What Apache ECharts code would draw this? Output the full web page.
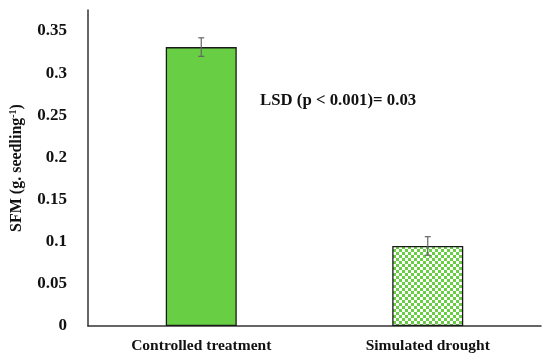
<!DOCTYPE html>
<html><head><meta charset="utf-8">
<script src="https://cdn.jsdelivr.net/npm/echarts@6/dist/echarts.min.js"></script>
<style>html,body{margin:0;padding:0;background:#fff}#c{width:550px;height:363px}</style>
</head><body><div id="c"></div>
<script>
var categories = ['Controlled treatment', 'Simulated drought'];
var values = [0.331, 0.095];
var errors = [0.011, 0.011];
var yTicks = [0, 0.05, 0.1, 0.15, 0.2, 0.25, 0.3, 0.35];
var annotation = 'LSD (p < 0.001)= 0.03';

var green = '#68cf45';
var pc = document.createElement('canvas');
pc.width = 6; pc.height = 6;
var g = pc.getContext('2d');
g.fillStyle = '#ffffff'; g.fillRect(0,0,6,6);
g.fillStyle = green; g.fillRect(0,0,3,3); g.fillRect(3,3,3,3);

var font = 'Liberation Serif';
var chart = echarts.init(document.getElementById('c'));
chart.setOption({
  animation: false,
  grid: {left: 88, right: 9, top: 10, bottom: 37, containLabel: false, outerBoundsMode: 'none'},
  xAxis: {
    type: 'category', data: categories,
    axisLine: {lineStyle: {color: '#333', width: 1.5}},
    axisTick: {show: false},
    axisLabel: {color: '#111', fontFamily: font, fontWeight: 'bold', fontSize: 15.5, margin: 12}
  },
  yAxis: {
    type: 'value', min: 0, max: 0.375, interval: 0.05,
    axisLine: {show: true, lineStyle: {color: '#333', width: 1.5}},
    axisTick: {show: false},
    splitLine: {show: false},
    axisLabel: {showMaxLabel: false, color: '#111', fontFamily: font, fontWeight: 'bold', fontSize: 17, margin: 21,
      formatter: function(v){ return yTicks.indexOf(Math.round(v*100)/100) >= 0 ? String(Math.round(v*100)/100) : ''; }},
    name: '{a|SFM (g. seedling}{s|-1}{a|)}',
    nameLocation: 'middle', nameGap: 62, nameRotate: 90,
    nameTextStyle: {rich: {
      a: {fontFamily: font, fontWeight: 'bold', fontSize: 16, color: '#111'},
      s: {fontFamily: font, fontWeight: 'bold', fontSize: 10, color: '#111', verticalAlign: 'top', padding: [0,0,8,0]}
    }}
  },
  series: [{
    type: 'bar', barWidth: 71,
    data: values.map(function(v, i){
      return {value: v, itemStyle: {color: i === 0 ? green : {image: pc, repeat: 'repeat'}}};
    }),
    itemStyle: {borderColor: '#1a1a1a', borderWidth: 1.3}
  }, {
    type: 'custom',
    data: values.map(function(v, i){ return [i, v - errors[i], v + errors[i]]; }),
    renderItem: function(params, api){
      var lo = api.coord([api.value(0), api.value(1)]);
      var hi = api.coord([api.value(0), api.value(2)]);
      var w = 3;
      var st = {stroke: '#666', lineWidth: 1.2};
      return {type: 'group', children: [
        {type: 'line', shape: {x1: lo[0], y1: lo[1], x2: hi[0], y2: hi[1]}, style: st},
        {type: 'line', shape: {x1: lo[0]-w, y1: lo[1], x2: lo[0]+w, y2: lo[1]}, style: st},
        {type: 'line', shape: {x1: hi[0]-w, y1: hi[1], x2: hi[0]+w, y2: hi[1]}, style: st}
      ]};
    },
    z: 5
  }],
  graphic: [{
    type: 'text', left: 260, top: 92,
    style: {text: annotation, fontFamily: font, fontWeight: 'bold', fontSize: 16.8, fill: '#111'}
  }]
});
</script></body></html>
